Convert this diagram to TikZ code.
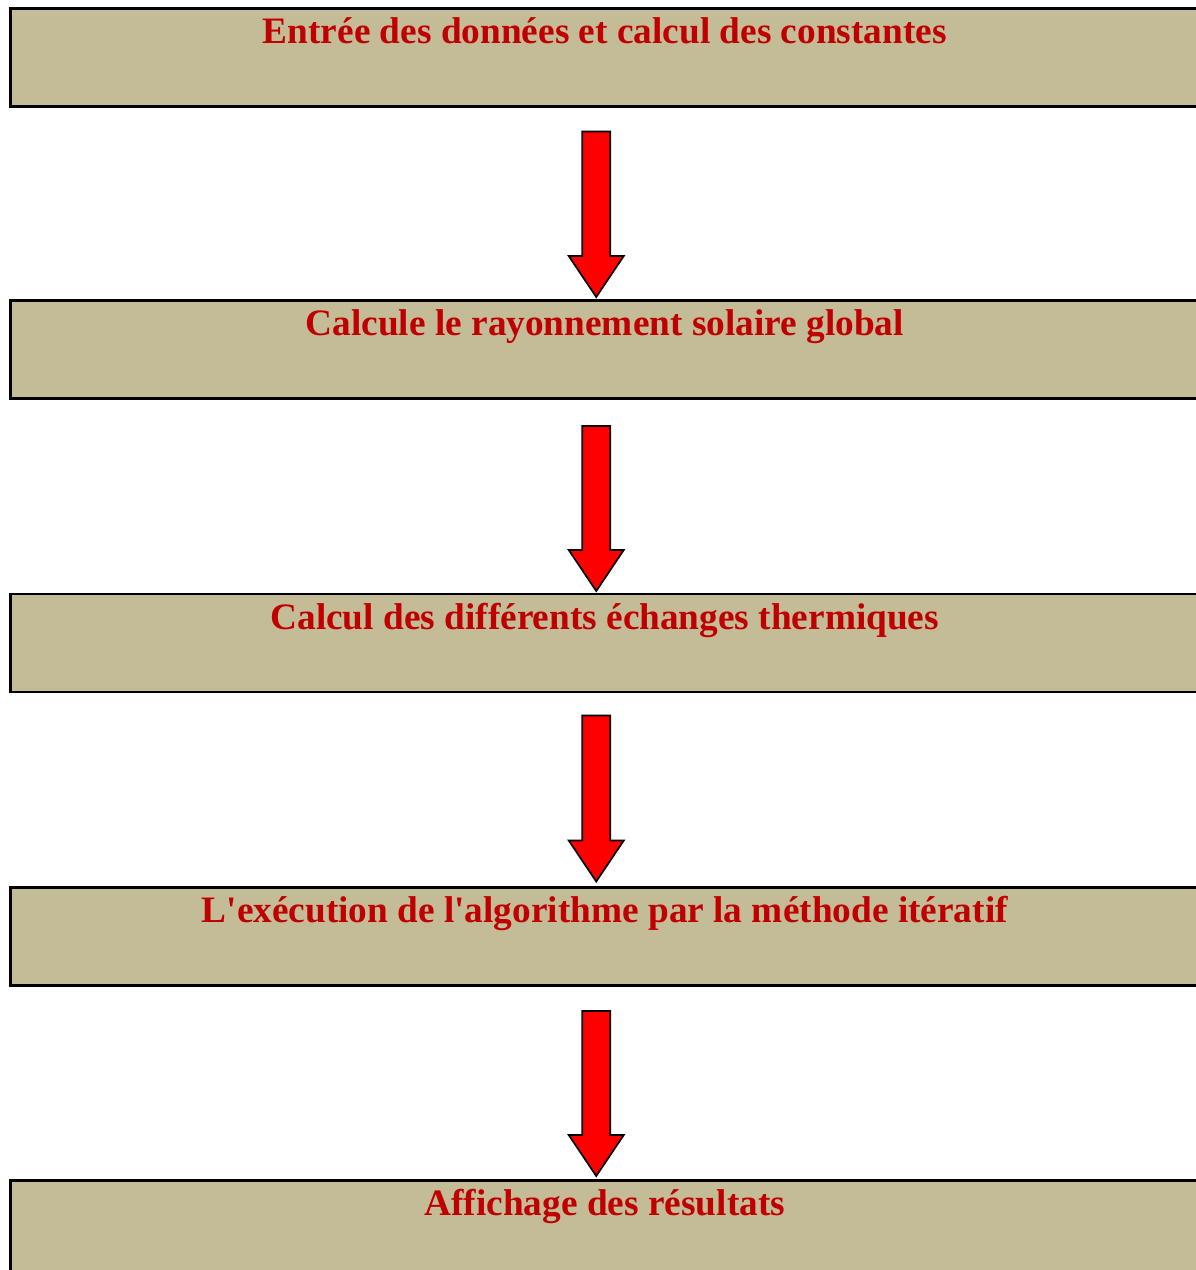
\documentclass[tikz,border=0pt]{standalone}
\usepackage{fontspec}
\setmainfont{Liberation Serif}
\usetikzlibrary{calc}
\definecolor{boxtan}{RGB}{196,187,151}
\definecolor{labelred}{RGB}{192,0,0}
\definecolor{arrowred}{RGB}{255,0,0}
\begin{document}
\begin{tikzpicture}[x=1pt,y=-1pt,
  stepbox/.style={draw=black,line width=2.6pt,fill=boxtan,rectangle,
    minimum width=1188.5pt,inner xsep=0pt,inner ysep=0pt,outer sep=0pt,
    text height=35pt,text depth=63pt,anchor=north,
    font=\fontsize{37.3}{41}\selectfont\bfseries,text=labelred},
  blockarrow/.style={draw=black,line width=1.7pt,fill=arrowred,line join=miter}]
\useasboundingbox (0,0) rectangle (1196,1270);

\node[stepbox] (b1) at (604.75,8.5)    {Entrée des données et calcul des constantes};
\node[stepbox] (b2) at (604.75,300.5)  {Calcule le rayonnement solaire global};
\node[stepbox] (b3) at (604.75,594)    {Calcul des différents échanges thermiques};
\node[stepbox] (b4) at (604.75,887.5)  {L\textquotesingle exécution de l\textquotesingle algorithme par la méthode itératif};
\node[stepbox] (b5) at (604.75,1180.5) {Affichage des résultats};

% block arrows between consecutive steps (gap below upper box / above lower box)
\foreach \a/\b/\g/\h in {b1/b2/25/3.5,b2/b3/27.5/3,b3/b4/23.5/6,b4/b5/25.5/4.5}{
  \coordinate (s) at ($(\a.south)+(-8.5,\g)$);
  \coordinate (t) at ($(\b.north)+(-8.5,-\h)$);
  \draw[blockarrow] ($(s)+(-14,0)$) -- ($(s)+(14,0)$) -- ($(t)+(14,-41)$)
    -- ($(t)+(27.5,-41)$) -- (t) -- ($(t)+(-27.5,-41)$) -- ($(t)+(-14,-41)$) -- cycle;
}
\end{tikzpicture}
\end{document}
